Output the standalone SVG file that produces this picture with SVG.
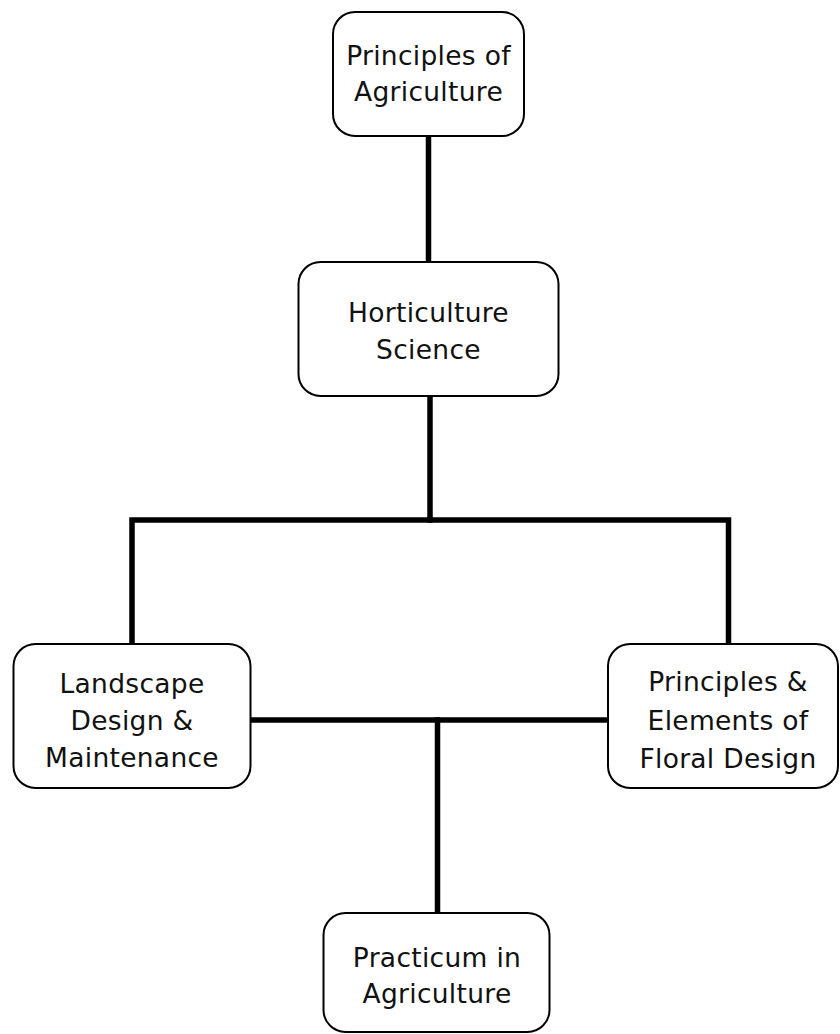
<svg xmlns="http://www.w3.org/2000/svg" width="840" height="1034" viewBox="0 0 840 1034">
  <style>
    .box { fill: #ffffff; stroke: #000000; stroke-width: 2; }
    .label { font-family: "DejaVu Sans", Verdana, sans-serif; font-size: 26.5px; letter-spacing: 0.3px; fill: #111111; text-anchor: middle; }
    .link { fill: none; stroke: #000000; stroke-width: 5.5; stroke-linecap: square; }
  </style>
  <rect width="840" height="1034" fill="#ffffff"/>

  <!-- connectors -->
  <g id="connectors">
    <path class="link" d="M428.5 137 V261"/>
    <path class="link" d="M430 397 V520"/>
    <path class="link" d="M132 643 V520 H728.5 V643"/>
    <path class="link" d="M251 720 H607"/>
    <path class="link" d="M437.5 720 V912"/>
  </g>

  <!-- nodes -->
  <g id="principles-of-agriculture">
    <rect class="box" x="333" y="12" width="191" height="124" rx="22"/>
    <text class="label" x="428.5" y="65">Principles of</text>
    <text class="label" x="428.5" y="101">Agriculture</text>
  </g>

  <g id="horticulture-science">
    <rect class="box" x="298.5" y="262" width="260" height="134" rx="22"/>
    <text class="label" x="428.5" y="322">Horticulture</text>
    <text class="label" x="428.5" y="359">Science</text>
  </g>

  <g id="landscape-design">
    <rect class="box" x="13.5" y="644" width="237" height="144" rx="22"/>
    <text class="label" x="132" y="693">Landscape</text>
    <text class="label" x="132" y="730">Design &amp;</text>
    <text class="label" x="132" y="767">Maintenance</text>
  </g>

  <g id="floral-design">
    <rect class="box" x="608" y="644" width="230" height="144" rx="22"/>
    <text class="label" x="728" y="691">Principles &amp;</text>
    <text class="label" x="728" y="730">Elements of</text>
    <text class="label" x="728" y="768">Floral Design</text>
  </g>

  <g id="practicum-in-agriculture">
    <rect class="box" x="323.5" y="913" width="226" height="119" rx="22"/>
    <text class="label" x="437" y="967">Practicum in</text>
    <text class="label" x="437" y="1003">Agriculture</text>
  </g>
</svg>
